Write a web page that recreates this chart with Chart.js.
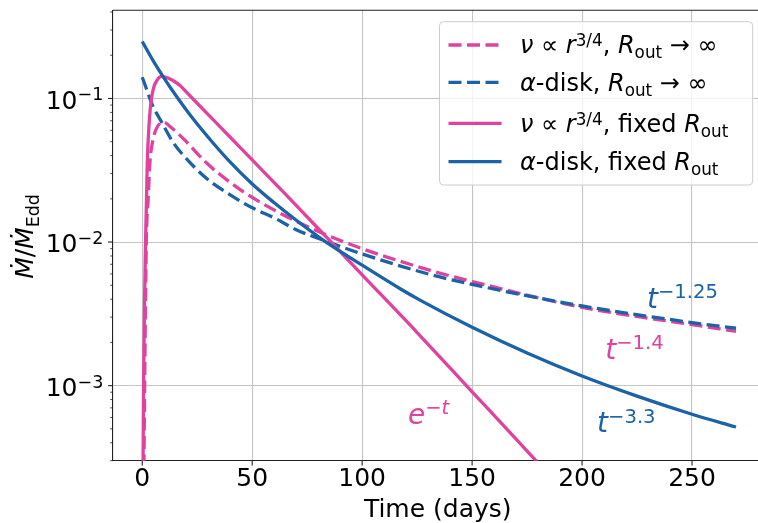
<!DOCTYPE html>
<html><head><meta charset="utf-8">
<script src="https://cdn.jsdelivr.net/npm/chart.js@4.4.0/dist/chart.umd.min.js"></script>
<style>html,body{margin:0;padding:0;background:#fff;}#wrap{width:758px;height:523px;position:relative;}</style>
</head><body><div id="wrap"><canvas id="c" width="758" height="523"></canvas></div>
<script>
// ---- data ----
const pinkDashT = [0.7, 1.1, 1.5, 1.9, 2.7, 3.5, 5, 7, 9.6, 13, 18.7, 29.3, 40, 50, 60, 70, 83, 100, 131, 150, 200, 250, 270];
const pinkDashV = [0.0002, 0.001, 0.004, 0.011, 0.02, 0.036, 0.0525, 0.064, 0.0686, 0.063, 0.0525, 0.0355, 0.0260, 0.02046, 0.01671, 0.01396, 0.01135, 0.00899, 0.00635, 0.00531, 0.00351, 0.00266, 0.00239];

const blueDashT = [0, 1.5, 2.5, 5, 7, 9.6, 14, 18.7, 29.3, 40, 50, 60, 70, 83, 100, 131, 150, 200, 250, 270];
const blueDashV = [0.1405, 0.1216, 0.1099, 0.087, 0.0766, 0.065, 0.0495, 0.0402, 0.0277, 0.0213, 0.01734, 0.01475, 0.0122, 0.0102, 0.00826, 0.00594, 0.00507, 0.00359, 0.00275, 0.00251];

const pinkSolidT = [0.3, 0.6, 1.0, 1.5, 2.3, 3.5, 5, 7, 8.8, 12, 14.5, 17.2, 20, 30, 40, 50, 65, 84, 100, 125, 150, 170, 185];
const pinkSolidV = [0.0002, 0.001, 0.0035, 0.01, 0.036, 0.08, 0.116, 0.136, 0.1426, 0.1383, 0.1318, 0.123, 0.111, 0.0773, 0.0537, 0.0373, 0.02163, 0.01072, 0.00591, 0.002344, 0.000906, 0.000424, 0.000239];

const blueSolidT = [0, 5, 9.55, 14.9, 23.2, 32.2, 39.9, 49.9, 59.9, 69.9, 83.1, 100, 117.3, 126.3, 150, 175, 200, 225, 250, 270];
const blueSolidV = [0.2495, 0.1828, 0.1416, 0.1071, 0.0719, 0.0490, 0.0362, 0.0255, 0.01884, 0.01425, 0.01012, 0.00690, 0.00473, 0.00394, 0.00255, 0.001687, 0.001167, 0.000845, 0.000632, 0.000515];

const xTickValues = [0, 50, 100, 150, 200, 250];
const yTickValues = [1e-3, 1e-2, 1e-1];
const yTickExponents = ['−3', '−2', '−1'];

const PINK = '#e0429f', BLUE = '#1b62a8';
const FONT = '"DejaVu Sans"';

// legend labels (rich text segments)
const legendLabels = [
  [{t:'ν',it:1},{t:' ∝ '},{t:'r',it:1},{t:'3/4',sup:1},{t:', '},{t:'R',it:1},{t:'out',sub:1},{t:' → ∞'}],
  [{t:'α',it:1},{t:'-disk, '},{t:'R',it:1},{t:'out',sub:1},{t:' → ∞'}],
  [{t:'ν',it:1},{t:' ∝ '},{t:'r',it:1},{t:'3/4',sup:1},{t:', fixed '},{t:'R',it:1},{t:'out',sub:1}],
  [{t:'α',it:1},{t:'-disk, fixed '},{t:'R',it:1},{t:'out',sub:1}]
];
// annotations placed in data coordinates (left, baseline)
const annotations = [
  {segs:[{t:'t',it:1},{t:'−1.25',sup:1}], x:229.5, y:3.46e-3, color:BLUE},
  {segs:[{t:'t',it:1},{t:'−1.4',sup:1}], x:210.5, y:1.53e-3, color:PINK},
  {segs:[{t:'e',it:1},{t:'−',sup:1},{t:'t',sup:1,it:1}], x:120.8, y:5.43e-4, color:PINK},
  {segs:[{t:'t',it:1},{t:'−3.3',sup:1}], x:206.8, y:4.73e-4, color:BLUE}
];

function fontFor(s, fs){ const size=(s.sup||s.sub)?fs*0.7:fs; return (s.it?'italic ':'')+size+'px '+FONT; }
function richWidth(ctx, segs, fs){ let w=0; for(const s of segs){ctx.font=fontFor(s,fs); w+=ctx.measureText(s.t).width;} return w; }
function drawRich(ctx, segs, x, y, fs, color, align, raise, drop){
  raise = raise==null?0.34:raise; drop = drop==null?0.2:drop;
  const w = richWidth(ctx, segs, fs);
  let cx = align==='right'? x-w : align==='center'? x-w/2 : x;
  ctx.fillStyle=color; ctx.textBaseline='alphabetic'; ctx.textAlign='left';
  for(const s of segs){
    ctx.font=fontFor(s,fs);
    const dy = s.sup? -raise*fs : s.sub? drop*fs : 0;
    ctx.fillText(s.t, cx, y+dy);
    cx += ctx.measureText(s.t).width;
  }
}

const mk = (T,V)=>T.map((t,i)=>({x:t,y:V[i]}));
const common = {pointRadius:0, fill:false, cubicInterpolationMode:'monotone', clip:0, borderWidth:3.3};

const decorPlugin = {
  id:'decor',
  afterDraw(chart){
    const ctx=chart.ctx, ca=chart.chartArea, xs=chart.scales.x, ys=chart.scales.y;
    ctx.save();
    // top spine
    ctx.strokeStyle='#222'; ctx.lineWidth=1.1;
    ctx.beginPath(); ctx.moveTo(ca.left, ca.top); ctx.lineTo(ca.right, ca.top); ctx.stroke();
    // x ticks
    for(const v of xTickValues){ const px=xs.getPixelForValue(v); ctx.beginPath(); ctx.moveTo(px,ca.bottom); ctx.lineTo(px,ca.bottom+4.9); ctx.stroke(); }
    // y ticks major
    for(const v of yTickValues){ const py=ys.getPixelForValue(v); ctx.beginPath(); ctx.moveTo(ca.left,py); ctx.lineTo(ca.left-4.9,py); ctx.stroke(); }
    // y minor ticks
    ctx.lineWidth=0.8;
    for(let e=-4;e<=0;e++){ for(let k=2;k<=9;k++){ const v=k*Math.pow(10,e); if(v<ys.min||v>ys.max) continue; const py=ys.getPixelForValue(v); ctx.beginPath(); ctx.moveTo(ca.left,py); ctx.lineTo(ca.left-2.8,py); ctx.stroke(); } }
    // y tick labels
    yTickValues.forEach((v,i)=>{ const py=ys.getPixelForValue(v); drawRich(ctx,[{t:'10'},{t:yTickExponents[i],sup:1}], ca.left-9.7, py+10.4, 25, '#000', 'right', 0.34); });
    // axis titles
    ctx.font='25px '+FONT; ctx.fillStyle='#000'; ctx.textAlign='center'; ctx.textBaseline='alphabetic';
    ctx.fillText('Time (days)', 437.7, 517);
    ctx.save(); ctx.translate(33, (ca.top+ca.bottom)/2 + 1); ctx.rotate(-Math.PI/2);
    drawRich(ctx,[{t:'Ṁ',it:1},{t:'/'},{t:'Ṁ',it:1},{t:'Edd',sub:1}],0,0,25,'#000','center',0.34,0.22);
    ctx.restore();
    // annotations
    for(const a of annotations){ drawRich(ctx,a.segs,xs.getPixelForValue(a.x),ys.getPixelForValue(a.y),28,a.color,'left',0.35); }
    // legend
    const L=439.5, T=21.7, R=752.7, B=185, r=4;
    ctx.beginPath(); ctx.moveTo(L+r,T); ctx.lineTo(R-r,T); ctx.arcTo(R,T,R,T+r,r); ctx.lineTo(R,B-r); ctx.arcTo(R,B,R-r,B,r); ctx.lineTo(L+r,B); ctx.arcTo(L,B,L,B-r,r); ctx.lineTo(L,T+r); ctx.arcTo(L,T,L+r,T,r); ctx.closePath();
    ctx.fillStyle='rgba(255,255,255,0.8)'; ctx.fill(); ctx.strokeStyle='#cccccc'; ctx.lineWidth=1; ctx.stroke();
    const baselines=[53.3, 90.7, 131.7, 170];
    chart.data.datasets.forEach((ds,i)=>{
      const hy=baselines[i]-8.3;
      ctx.save(); ctx.strokeStyle=ds.borderColor; ctx.lineWidth=ds.borderWidth; ctx.setLineDash(ds.borderDash||[]); ctx.lineCap='butt';
      ctx.beginPath(); ctx.moveTo(448.5,hy); ctx.lineTo(501.5,hy); ctx.stroke(); ctx.restore();
      drawRich(ctx, legendLabels[i], 520, baselines[i], 24, '#000', 'left', 0.3, 0.2);
    });
    ctx.restore();
  }
};

new Chart(document.getElementById('c'), {
  type:'line',
  data:{datasets:[
    Object.assign({label:'pinkDash', data:mk(pinkDashT,pinkDashV), borderColor:PINK, borderDash:[13,5.5], order:4}, common),
    Object.assign({label:'blueDash', data:mk(blueDashT,blueDashV), borderColor:BLUE, borderDash:[13,5.5], order:3}, common),
    Object.assign({label:'pinkSolid', data:mk(pinkSolidT,pinkSolidV), borderColor:PINK, order:2}, common),
    Object.assign({label:'blueSolid', data:mk(blueSolidT,blueSolidV), borderColor:BLUE, order:1}, common)
  ]},
  options:{
    responsive:false, animation:false, devicePixelRatio:1,
    layout:{padding:{top:7.5,left:0,right:0,bottom:0}},
    plugins:{legend:{display:false}, tooltip:{enabled:false}},
    scales:{
      x:{type:'linear', min:-13.3, max:280,
        afterBuildTicks:s=>{s.ticks=xTickValues.map(v=>({value:v}));},
        afterFit:s=>{s.height=62.3;},
        grid:{color:'#c4c4c4', lineWidth:1.1, drawTicks:false},
        border:{display:true, color:'#222', width:1.1},
        ticks:{font:{family:'DejaVu Sans', size:25}, color:'#000', padding:4, maxRotation:0, autoSkip:false, callback:v=>String(v)}
      },
      y:{type:'logarithmic', min:3e-4, max:0.412,
        afterBuildTicks:s=>{s.ticks=yTickValues.map(v=>({value:v}));},
        afterFit:s=>{s.width=113;},
        grid:{color:'#c4c4c4', lineWidth:1.1, drawTicks:false},
        border:{display:true, color:'#222', width:1.1},
        ticks:{callback:()=>'', autoSkip:false}
      }
    }
  },
  plugins:[decorPlugin]
});
</script></body></html>
